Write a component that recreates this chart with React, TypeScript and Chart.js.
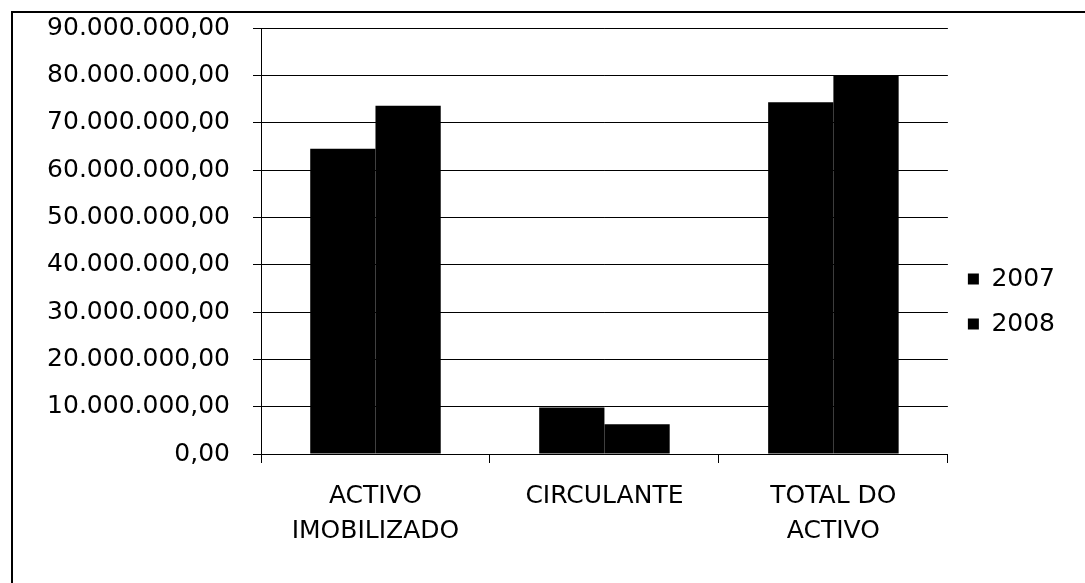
import React, { useEffect, useRef } from "react";
import { Chart, registerables } from "chart.js";

Chart.register(...registerables);

const categories: (string | string[])[] = [
  ["ACTIVO", "IMOBILIZADO"],
  "CIRCULANTE",
  ["TOTAL DO", "ACTIVO"],
];
const seriesNames = ["2007", "2008"];
const values2007 = [64500000, 9800000, 74300000];
const values2008 = [73600000, 6300000, 79900000];
const yMax = 90000000;
const yStep = 10000000;

const FONT = "'DejaVu Sans', sans-serif";

function fmt(v: number): string {
  const s = Math.round(v).toString().replace(/\B(?=(\d{3})+(?!\d))/g, ".");
  return s + ",00";
}

const framePlugin = {
  id: "frame",
  afterDraw(chart: any) {
    const ctx = chart.ctx;
    ctx.save();
    ctx.strokeStyle = "#000";
    ctx.lineWidth = 2;
    ctx.beginPath();
    ctx.moveTo(12, chart.height);
    ctx.lineTo(12, 12);
    ctx.lineTo(chart.width, 12);
    ctx.stroke();
    ctx.restore();
  },
};

export default function App() {
  const ref = useRef<HTMLCanvasElement>(null);
  useEffect(() => {
    document.body.style.margin = "0";
    const chart = new Chart(ref.current!, {
      type: "bar",
      data: {
        labels: categories,
        datasets: [
          {
            label: seriesNames[0],
            data: values2007,
            backgroundColor: "#000",
            borderWidth: 0,
            barPercentage: 1,
            categoryPercentage: 0.57,
          },
          {
            label: seriesNames[1],
            data: values2008,
            backgroundColor: "#000",
            borderWidth: 0,
            barPercentage: 1,
            categoryPercentage: 0.57,
          },
        ],
      },
      options: {
        animation: false,
        responsive: false,
        devicePixelRatio: 1,
        layout: { padding: { top: 28, left: 0, right: 20, bottom: 8 } },
        plugins: {
          legend: {
            position: "right",
            labels: {
              boxWidth: 11,
              boxHeight: 11,
              padding: 20,
              color: "#000",
              font: { family: FONT, size: 25 },
            },
          },
          tooltip: { enabled: false },
        },
        scales: {
          x: {
            offset: true,
            grid: {
              offset: true,
              drawOnChartArea: false,
              drawTicks: true,
              tickLength: 9,
              color: "#000",
            },
            border: { display: true, color: "#000", width: 1 },
            ticks: {
              color: "#000",
              padding: 16,
              maxRotation: 0,
              autoSkip: false,
              font: { family: FONT, size: 25, lineHeight: 1.4 },
            },
            afterFit(scale: any) {
              scale.height = 121;
            },
          },
          y: {
            min: 0,
            max: yMax,
            grid: {
              color: "#000",
              lineWidth: 1,
              tickLength: 8,
              tickColor: "#000",
            },
            border: { display: true, color: "#000", width: 1 },
            ticks: {
              stepSize: yStep,
              color: "#000",
              padding: 23,
              font: { family: FONT, size: 25, lineHeight: 1 },
              callback: (v: any) => fmt(Number(v)),
            },
            afterFit(scale: any) {
              scale.width = 261;
              scale.paddingTop = 0;
            },
          },
        },
      },
      plugins: [framePlugin],
    });
    return () => chart.destroy();
  }, []);
  return <canvas ref={ref} width={1085} height={583} style={{ display: "block" }} />;
}
